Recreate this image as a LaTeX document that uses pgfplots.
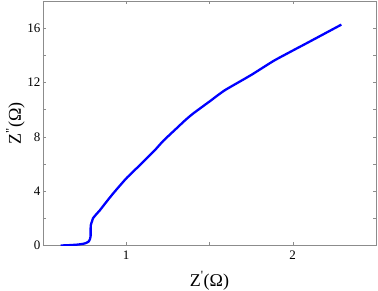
\documentclass[border=0pt]{standalone}
\usepackage{pgfplots}
\pgfplotsset{compat=1.18}
\usepackage{fontspec}
\setmainfont{Liberation Serif}
\begin{document}
\begin{tikzpicture}
\begin{axis}[
  scale only axis,
  width=333pt, height=244.5pt,
  xmin=0.5, xmax=2.5, ymin=0, ymax=18,
  xtick={0.5,1,1.5,2,2.5}, xticklabels={,1,,2,},
  ytick={0,2,4,6,8,10,12,14,16,18}, yticklabels={0,,4,,8,,12,,16,},
  tick align=inside,
  major tick length=3pt,
  axis line style={draw=black!45, line width=0.6pt},
  every tick/.style={black!45, line width=0.5pt},
  tick label style={font=\fontsize{13}{15}\selectfont, black},
  /pgf/number format/assume math mode=true,
  xticklabel style={yshift=-2pt},
  yticklabel style={xshift=1pt},
  xlabel={Z\textsuperscript{\textquotesingle}(Ω)},
  ylabel={Z\textsuperscript{\textquotedbl}(Ω)},
  label style={font=\fontsize{18}{20}\selectfont},
  xlabel style={yshift=-5pt},
  ylabel style={yshift=-4pt},
]
\addplot[color={rgb,255:red,0;green,0;blue,255}, line width=2.3pt, line join=round, smooth, tension=0.3] coordinates {
(0.606,0) (0.65,0.02) (0.702,0.06) (0.74,0.12) (0.762,0.2) (0.775,0.3) (0.782,0.46) (0.786,0.7) (0.786,0.9) (0.786,1.2) (0.787,1.5) (0.795,1.8) (0.80,2.0) (0.82,2.3) (0.842,2.6) (0.88,3.2) (0.922,3.84) (1.0,4.94) (1.082,5.92) (1.172,7.02) (1.222,7.7) (1.30,8.6) (1.352,9.2) (1.40,9.7) (1.50,10.6) (1.592,11.43) (1.75,12.55) (1.892,13.64) (2.1,15.0) (2.292,16.26)
};
\end{axis}
\pgfresetboundingbox
\path (current axis.south west) ++(-43pt,-45.5pt) rectangle ([shift={(2pt,1pt)}]current axis.north east);
\end{tikzpicture}
\end{document}
